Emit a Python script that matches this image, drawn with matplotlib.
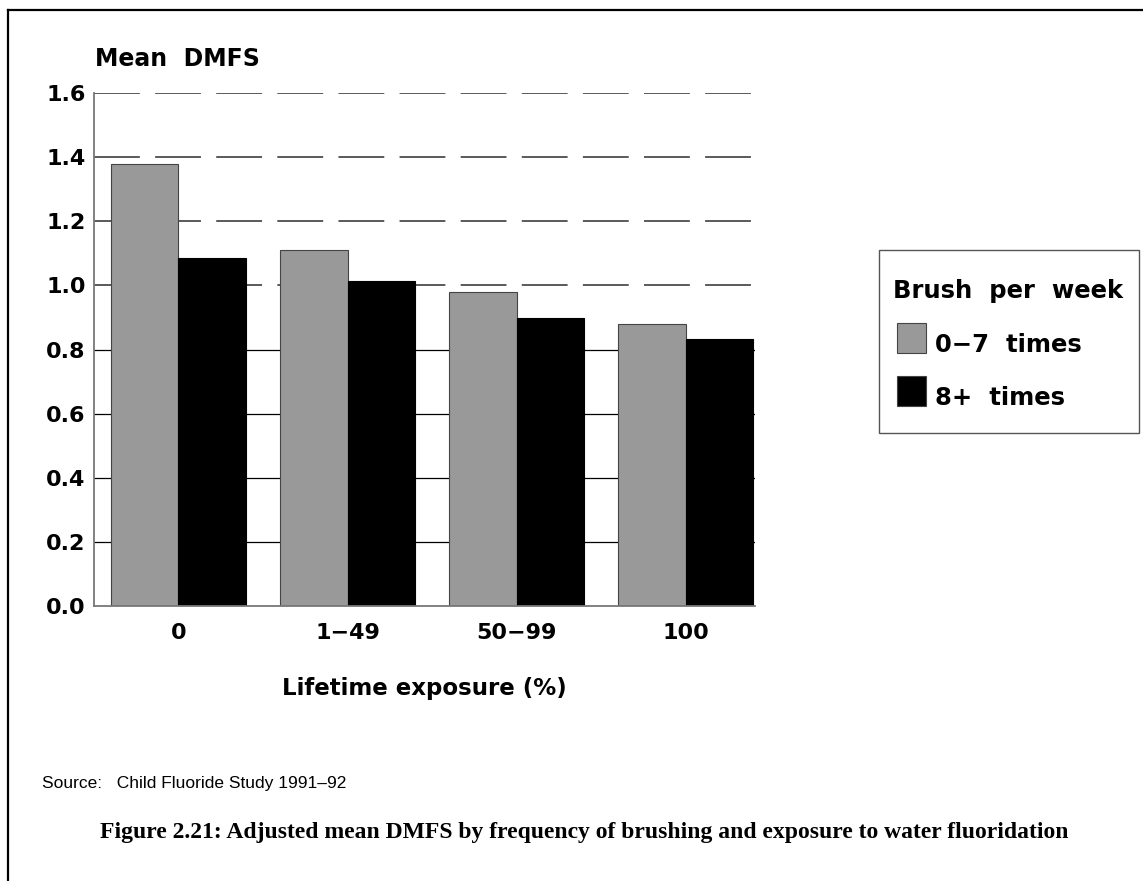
#!/usr/bin/env python
# plot.py
# adjusted mean DMFS by brushing frequency and fluoridation exposure

import matplotlib
matplotlib.use('Agg')

import matplotlib.pyplot as plt
from matplotlib.patches import Rectangle
from matplotlib.lines import Line2D
import numpy as np

# data
exposure = ['0', '1\u221249', '50\u221299', '100']
brush_low = [1.38, 1.11, 0.98, 0.88]    # 0-7 times per week
brush_high = [1.085, 1.015, 0.898, 0.833]  # 8+ times per week
series_names = ['0\u22127  times', '8+  times']
yticks = [0.0, 0.2, 0.4, 0.6, 0.8, 1.0, 1.2, 1.4, 1.6]

plt.rcParams['lines.scale_dashes'] = False
sans = ['DejaVu Sans']

fig = plt.figure(figsize=(11.43, 8.81), dpi=100)
ax = fig.add_axes([0.0822, 0.3121, 0.5783, 0.5823])

x = np.arange(len(exposure))
w = 0.4
grey = '#999999'

# gridlines: solid black low, dashed grey high
for v in yticks[1:]:
    if v < 0.9:
        ax.axhline(v, color='black', lw=0.9, zorder=1)
    else:
        ax.axhline(v, color='#5a5a5a', lw=1.4, dashes=(33, 11), zorder=1)

ax.bar(x - w / 2, brush_low, w, color=grey, edgecolor='#444444', lw=0.8, zorder=2)
ax.bar(x + w / 2, brush_high, w, color='black', edgecolor='black', lw=0.8, zorder=2)

ax.set_xlim(-0.5, 3.41)
ax.set_ylim(0, 1.6)
ax.set_yticks(yticks)
ax.set_yticklabels(['%.1f' % v for v in yticks])
ax.set_xticks(x)
ax.set_xticklabels(exposure)
ax.tick_params(length=0)
ax.tick_params(axis='y', pad=6)
ax.tick_params(axis='x', pad=12)
for lab in ax.get_xticklabels() + ax.get_yticklabels():
    lab.set_family(sans)
    lab.set_fontweight('bold')
    lab.set_fontsize(16)

for s in ['top', 'right']:
    ax.spines[s].set_visible(False)
for s in ['left', 'bottom']:
    ax.spines[s].set_color('#777777')
    ax.spines[s].set_linewidth(1.3)

ax.set_xlabel('Lifetime exposure (%)', family=sans, fontweight='bold',
              fontsize=16.5, labelpad=25)
fig.text(0.083, 0.925, 'Mean  DMFS', family=sans, fontweight='bold',
         fontsize=17, ha='left', va='baseline')

# legend box drawn by hand
fig.patches.append(Rectangle((0.769, 0.5085), 0.2275, 0.2077, transform=fig.transFigure,
                             facecolor='white', edgecolor='#555555', lw=1.0))
fig.text(0.781, 0.662, 'Brush  per  week', family=sans, fontweight='bold',
         fontsize=17.5, va='baseline')
colors = [grey, 'black']
for i in range(2):
    yy = 0.6005 - i * 0.0602
    fig.patches.append(Rectangle((0.7845, yy - 0.0013), 0.0254, 0.034,
                                 transform=fig.transFigure, facecolor=colors[i],
                                 edgecolor='#444444', lw=0.8))
    fig.text(0.818, yy, series_names[i], family=sans, fontweight='bold',
             fontsize=17.5, va='baseline')

fig.text(0.037, 0.105, 'Source:   Child Fluoride Study 1991\u201392',
         family=['Liberation Sans Narrow', 'Liberation Sans'], fontsize=12.5,
         va='baseline')
fig.text(0.0875, 0.049,
         'Figure 2.21: Adjusted mean DMFS by frequency of brushing and exposure to water fluoridation',
         family=['Liberation Serif', 'DejaVu Serif'], fontweight='bold', fontsize=17,
         va='baseline')

# page frame: top and left edges only
fig.lines.append(Line2D([0.007, 1.0], [0.9887, 0.9887], transform=fig.transFigure,
                        color='black', lw=1.6))
fig.lines.append(Line2D([0.007, 0.007], [0.0, 0.9887], transform=fig.transFigure,
                        color='black', lw=1.6))

plt.savefig('out.png', dpi=100)
